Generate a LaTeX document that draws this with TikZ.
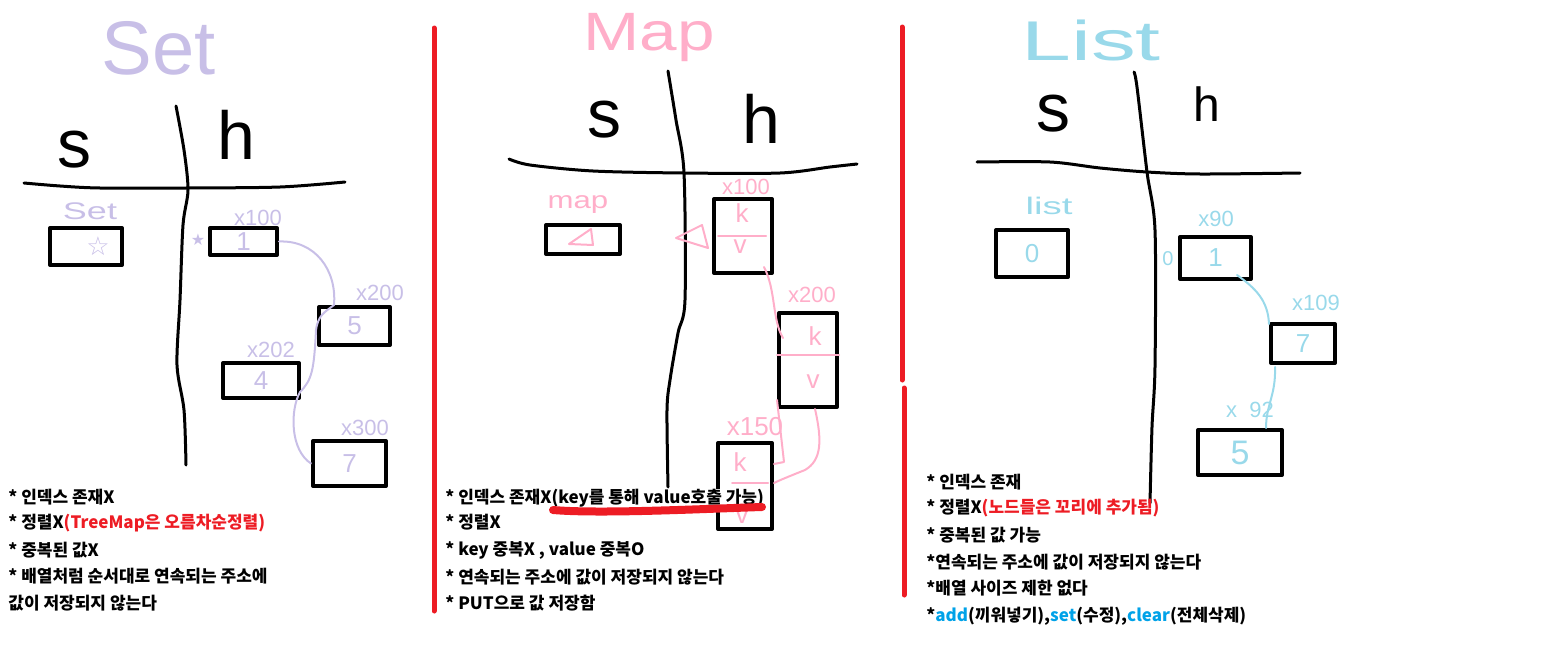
\documentclass[tikz,border=0pt]{standalone}
\usepackage{fontspec}
\setsansfont{Liberation Sans}
\newfontfamily\kr{Noto Sans CJK KR}
\newfontfamily\sym{DejaVu Sans}
\usepackage{tikz}
\usetikzlibrary{positioning}
\definecolor{lavender}{RGB}{200,191,231}
\definecolor{pinky}{RGB}{255,174,201}
\definecolor{skyblue}{RGB}{153,217,234}
\definecolor{paintred}{RGB}{237,28,36}
\definecolor{paintblue}{RGB}{0,162,232}
\tikzset{
    title/.style={text=#1, font=\sffamily\fontsize{38}{38}\selectfont, inner sep=0pt},
    colhead/.style={text=black, font=\sffamily\fontsize{34}{34}\selectfont, inner sep=0pt},
    addr/.style={text=#1, font=\sffamily\fontsize{11}{11}\selectfont, inner sep=0pt},
    val/.style={text=#1, font=\sffamily\fontsize{13}{13}\selectfont, inner sep=0pt},
    cell/.style 2 args={draw=black, line width=2pt, minimum width=#1, minimum height=#2, inner sep=0pt},
    hand/.style={draw=black, line width=1.5pt},
    link/.style={draw=#1, line width=1pt},
    note/.style={anchor=west, font=\kr\bfseries\fontsize{8.5}{10}\selectfont, inner sep=0pt},
    divider/.style={draw=paintred, line width=2.5pt},
}
\begin{document}
\begin{tikzpicture}[x=0.5pt, y=-0.5pt, line cap=round, line join=round]
	\useasboundingbox (0,0) rectangle (1553,648);
	\draw[divider] (434,28)--(434,611);
	\draw[divider] (902,27)--(902,380);
	\draw[divider] (904,388)--(904,595);
%
% Set
\node[title=lavender] (settitle) at (159,48) {Set};
\draw[hand] plot[smooth] coordinates {(24,183) (60,186) (100,188) (186,188) (280,187) (345,182)};
\draw[hand] plot[smooth] coordinates {(176,106) (184,150) (188,190) (183,225) (180,300) (177,365) (184,410) (186,465)};
\node[colhead] (sets) at (74,150) {s};
\node[colhead] (seth) at (236,135) {h};
\node[addr=lavender, font=\sffamily\fontsize{12}{12}\selectfont] (setname) at (90,211) {\scalebox{1.5}[1]{Set}};
\node[cell={36pt}{18.5pt}] (setref) at (86,246.5) {};
\node[val=lavender] (setstar) at (98,246) {\sym ☆};
\node[val=lavender, font=\fontsize{8}{8}\selectfont] (setptr) at (198,240) {\sym ★};
\node[cell={33.5pt}{13.5pt}, val=lavender] (s1) at (243.5,241.5) {1};
\node[cell={35.5pt}{19pt}, val=lavender] (s5) at (354.5,326) {5};
\node[cell={38pt}{17.5pt}, val=lavender] (s4) at (261,380.5) {4};
\node[cell={36.5pt}{22.5pt}, val=lavender] (s7) at (349.5,463.5) {7};
\node[addr=lavender] (s1addr) at (258,218) {x100};
\node[addr=lavender] (s5addr) at (380,293) {x200};
\node[addr=lavender] (s4addr) at (271,350) {x202};
\node[addr=lavender] (s7addr) at (365,428) {x300};
\draw[link=lavender] (s1.east) .. controls (315,240) and (337,270) .. (334,305)
	.. controls (325,312) and (318,315) .. (316,330)
	.. controls (314,370) and (312,380) .. (300,392)
	.. controls (290,410) and (290,450) .. (s7.west);
\node[note] (setn1) at (8,497) {* 인덱스 존재X};
\node[note] (setn2) at (8,523) {* 정렬X\textcolor{paintred}{(TreeMap은 오름차순정렬)}};
\node[note] (setn3) at (8,550) {* 중복된 값X};
\node[note] (setn4) at (8,576) {* 배열처럼 순서대로 연속되는 주소에};
\node[note] (setn5) at (8,603) {값이 저장되지 않는다};
%
% Map
\begin{scope}
	\node[title=pinky, font=\sffamily\fontsize{27}{27}\selectfont] (maptitle) at (649,38) {\scalebox{1.25}[1]{Map}};
	\draw[hand] plot[smooth] coordinates {(509,159) (530,165) (593,171) (683,173) (780,173) (830,167) (857,164)};
	\draw[hand] plot[smooth] coordinates {(668,71) (676,120) (684,173) (685,300) (678,333) (670,380) (667,410) (668,487)};
	\node[colhead] (maps) at (604,120) {s};
	\node[colhead] (maph) at (761,119) {h};
	\node[addr=pinky, font=\sffamily\fontsize{12}{12}\selectfont] (mapname) at (578,205) {\scalebox{1.3}[1]{map}};
	\node[cell={37pt}{14.5pt}] (mapref) at (583,239.5) {};
	\draw[link=pinky] (569,244)--(591,229)--(593,245)--cycle;
	\draw[link=pinky] (676,238)--(702,225)--(708,248)--cycle;
	\node[cell={29pt}{37pt}] (m1) at (743,236) {};
	\node[cell={29pt}{47pt}] (m2) at (808,360) {};
	\node[cell={27pt}{43pt}] (m3) at (745,486) {};
	\draw[link=pinky] ([xshift=3pt]m1.west)--([xshift=-4pt]m1.east);
	\draw[link=pinky] ([yshift=2.5pt]m2.west)--([yshift=2.5pt]m2.east);
	\draw[link=pinky] ([xshift=8pt,yshift=1.5pt]m3.west)--([xshift=-3pt,yshift=1.5pt]m3.east);
	\node[val=pinky] (m1k) at (742,213) {k};
	\node[val=pinky] (m1v) at (740,247) {v};
	\node[val=pinky] (m2k) at (815,336) {k};
	\node[val=pinky] (m2v) at (813,382) {v};
	\node[val=pinky] (m3k) at (740,462) {k};
	\node[val=pinky] (m3v) at (742,517) {v};
	\node[addr=pinky] (m1addr) at (746,187) {x100};
	\node[addr=pinky] (m2addr) at (812,295) {x200};
	\node[addr=pinky, font=\sffamily\fontsize{13}{13}\selectfont] (m3addr) at (755,427) {x150};
	\draw[link=pinky] ([xshift=-5pt,yshift=4pt]m1.south east) .. controls (776,290) and (772,320) .. ([xshift=3pt,yshift=11pt]m2.west);
	\draw[link=pinky] ([yshift=4.5pt]m2.south west)--(784,462)--([yshift=11pt]m3.east);
	\draw[link=pinky] ([xshift=3.5pt]m2.south) .. controls (822,440) and (822,460) .. (805,470)
		.. controls (790,476) and (780,480) .. ([yshift=1.5pt]m3.east);
	\node[note, fill=white] (mapn1) at (445,498) {* 인덱스 존재X(key를 통해 value호출 가능)};
	\draw[paintred, line width=4pt] (553,510) .. controls (600,514) and (700,509) .. (762,507);
	\node[note] (mapn2) at (445,522) {* 정렬X};
	\node[note] (mapn3) at (445,550) {* key 중복X , value 중복O};
	\node[note] (mapn4) at (445,577) {* 연속되는 주소에 값이 저장되지 않는다};
	\node[note] (mapn5) at (445,603) {* PUT으로 값 저장함};
\end{scope}
%
% List
\begin{scope}
	\node[title=skyblue, font=\sffamily\fontsize{28}{28}\selectfont] (listtitle) at (1091,40) {\scalebox{1.6}[1]{List}};
	\draw[hand] plot[smooth] coordinates {(977,162) (1050,162) (1100,168) (1147,172) (1200,174) (1300,173)};
	\draw[hand] plot[smooth] coordinates {(1134,72) (1137,87) (1147,172) (1155,230) (1155,367) (1152,427) (1150,503)};
	\node[colhead] (lists) at (1053,114) {s};
	\node[colhead, font=\sffamily\fontsize{24}{24}\selectfont] (listh) at (1207,104) {h};
	\node[addr=skyblue, font=\sffamily\fontsize{12}{12}\selectfont] (listname) at (1049,206) {\scalebox{1.6}[1]{list}};
	\node[cell={36pt}{23.5pt}, val=skyblue] (listref) at (1032,253.5) {0};
	\node[val=skyblue, font=\sffamily\fontsize{10}{10}\selectfont] (listptr) at (1168,259) {0};
	\node[cell={35.5pt}{21pt}, val=skyblue] (l1) at (1215.5,258) {1};
	\node[cell={32pt}{19.5pt}, val=skyblue] (l2) at (1303,343.5) {7};
	\node[cell={42pt}{22.5pt}, val=skyblue, font=\sffamily\fontsize{17}{17}\selectfont] (l3) at (1240,452.5) {5};
	\node[addr=skyblue] (l1addr) at (1216,219) {x90};
	\node[addr=skyblue] (l2addr) at (1316,303) {x109};
	\node[addr=skyblue] (l3addr) at (1250,410) {x\ \ 92};
	\draw[link=skyblue] ([xshift=-8pt,yshift=3pt]l1.south east) .. controls (1255,288) and (1268,300) .. ([yshift=-1pt]l2.north west);
	\draw[link=skyblue] ([xshift=3pt,yshift=-1pt]l2.south west) .. controls (1276,395) and (1266,405) .. ([xshift=13pt]l3.north);
	\node[note] (listn1) at (926,482) {* 인덱스 존재};
	\node[note] (listn2) at (926,508) {* 정렬X\textcolor{paintred}{(노드들은 꼬리에 추가됨)}};
	\node[note] (listn3) at (926,535) {* 중복된 값 가능};
	\node[note] (listn4) at (926,562) {*연속되는 주소에 값이 저장되지 않는다};
	\node[note] (listn5) at (926,588) {*배열 사이즈 제한 없다};
	\node[note] (listn6) at (926,616) {*\textcolor{paintblue}{add}(끼워넣기),\textcolor{paintblue}{set}(수정),\textcolor{paintblue}{clear}(전체삭제)};
\end{scope}
\end{tikzpicture}
\end{document}
